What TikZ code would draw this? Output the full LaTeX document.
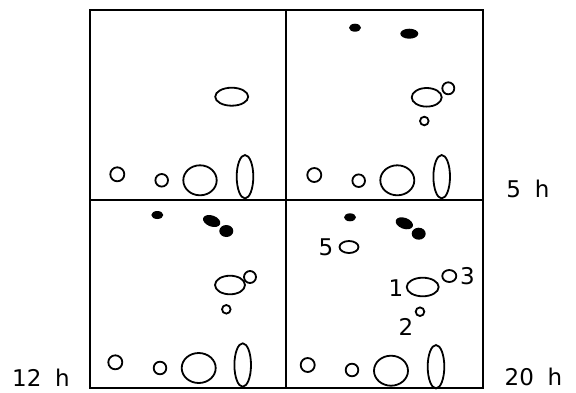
\documentclass[tikz,border=0pt]{standalone}
\usepackage{fontspec}
\setmainfont{DejaVu Sans}
\begin{document}
\begin{tikzpicture}[x=1pt,y=-1pt,
	frame/.style={line width=2.5pt},
	blob/.style={line width=1.8pt},
	dot/.style={fill=black},
	tag/.style={font=\fontsize{23}{23}\selectfont, inner sep=0pt}]
	
	\useasboundingbox (0,0) rectangle (576,392);
	
	\draw[frame] (90,10) rectangle (483,388);
	\draw[frame] (286,10) -- (286,388);
	\draw[frame] (90,200) -- (483,200);
	
	% top left
	\draw[blob] (231.7,96.7) ellipse (16.5 and 9);
	\draw[blob] (117.3,174.3) circle (7);
	\draw[blob] (161.7,180.3) circle (6.3);
	\draw[blob] (200,180.3) ellipse (16.7 and 15);
	\draw[blob] (245,176.7) ellipse (8.3 and 21.7);
	
	% top right
	\fill[dot] (355,27.7) ellipse (6 and 4);
	\fill[dot] (409.3,33.7) ellipse (9 and 5);
	\draw[blob] (426.7,97.3) ellipse (15 and 9.3);
	\draw[blob] (448.3,88.3) circle (6);
	\draw[blob] (424.3,121) circle (4.3);
	\draw[blob] (314.3,175) circle (7);
	\draw[blob] (358.7,180.7) circle (6.3);
	\draw[blob] (397.3,180.3) ellipse (17 and 15);
	\draw[blob] (441.7,176.7) ellipse (8.3 and 21.7);
	
	% bottom left
	\fill[dot] (157.3,215) ellipse (6 and 4);
	\fill[dot, rotate around={-20:(211.7,221)}] (211.7,221) ellipse (9 and 5.5);
	\fill[dot] (226.3,231) ellipse (7 and 6);
	\draw[blob] (230,285) ellipse (15 and 9.3);
	\draw[blob] (250,277) circle (6);
	\draw[blob] (226.3,309.3) circle (4.3);
	\draw[blob] (115.3,362.3) circle (7);
	\draw[blob] (160,368) circle (6.3);
	\draw[blob] (198.7,368) ellipse (17 and 15);
	\draw[blob] (242.7,365) ellipse (8.3 and 21.7);
	
	% bottom right
	\fill[dot] (350,217.3) ellipse (6 and 4);
	\fill[dot, rotate around={-20:(404.3,223.3)}] (404.3,223.3) ellipse (9 and 5.5);
	\fill[dot] (418.7,233.7) ellipse (7 and 6);
	\draw[blob] (349,247) ellipse (9.5 and 6);
	\draw[blob] (422.7,287) ellipse (16 and 9.3);
	\draw[blob] (449.3,276) ellipse (7 and 6);
	\draw[blob] (420,311.7) circle (4.3);
	\draw[blob] (307.7,365) circle (7);
	\draw[blob] (352,370) circle (6.3);
	\draw[blob] (391,370.7) ellipse (17 and 15);
	\draw[blob] (436,366.7) ellipse (8.3 and 21.7);
	
	\node[tag] (n5) at (326,247.3) {5};
	\node[tag] (n1) at (396,287.7) {1};
	\node[tag] (n3) at (467.5,276) {3};
	\node[tag] (n2) at (406,327) {2};
	
	\node[tag] (h5) at (528,189) {5\hspace{0.6em}h};
	\node[tag] (h12) at (41,378) {12\hspace{0.6em}h};
	\node[tag] (h20) at (533.5,377) {20\hspace{0.6em}h};
	
\end{tikzpicture}
\end{document}
